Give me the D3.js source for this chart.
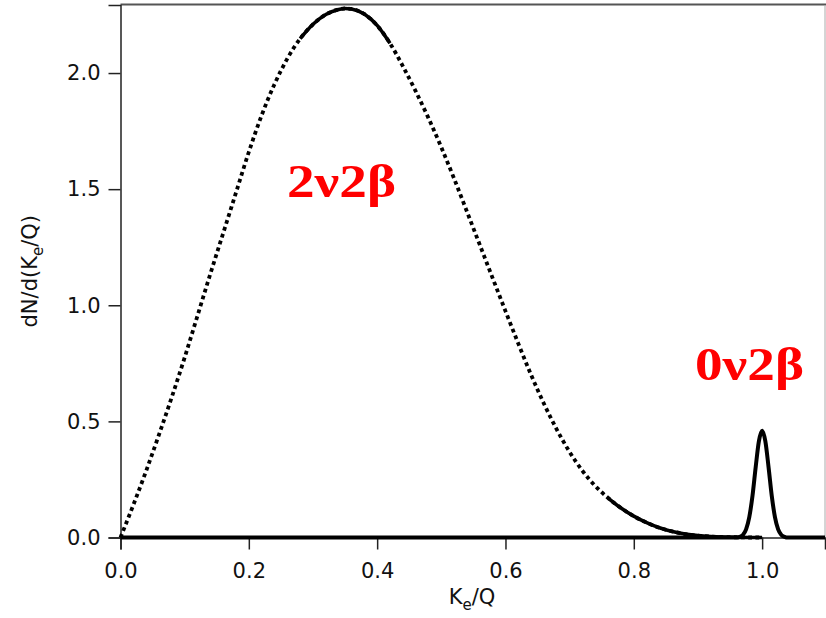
<!DOCTYPE html>
<html>
<head>
<meta charset="utf-8">
<script src="https://cdn.jsdelivr.net/npm/d3@7"></script>
<style>
  body { margin: 0; background: #fff; }
  svg { display: block; font-family: "DejaVu Sans", sans-serif; }
</style>
</head>
<body>
<div class="chart"></div>
<script>
const w = 826;
const h = 618;

// tick values
const xTicks = [0, 0.2, 0.4, 0.6, 0.8, 1.0];
const yTicks = [0, 0.5, 1.0, 1.5, 2.0];

// 2nu2beta spectrum
const twoNuX = [0, 0.02, 0.04, 0.06, 0.08, 0.10, 0.12, 0.14, 0.16, 0.18, 0.20, 0.22, 0.24, 0.26, 0.28, 0.30, 0.32, 0.34, 0.35, 0.36,
  0.38, 0.40, 0.42, 0.44, 0.46, 0.48, 0.50, 0.52, 0.54, 0.56, 0.58, 0.60, 0.62, 0.64, 0.66, 0.68, 0.70, 0.72, 0.74, 0.76,
  0.78, 0.80, 0.82, 0.84, 0.86, 0.88, 0.90, 0.92, 0.94, 0.96, 0.98, 1.00];
const twoNuY = [0, 0.140, 0.287, 0.443, 0.605, 0.775, 0.955, 1.135, 1.310, 1.485, 1.660, 1.818, 1.952, 2.062, 2.148, 2.210, 2.252, 2.274, 2.278, 2.276,
  2.254, 2.205, 2.128, 2.030, 1.922, 1.806, 1.680, 1.545, 1.403, 1.260, 1.117, 0.975, 0.835, 0.700, 0.576, 0.465, 0.368, 0.287, 0.222, 0.170,
  0.127, 0.092, 0.064, 0.042, 0.026, 0.015, 0.008, 0.004, 0.002, 0.001, 0, 0];

// 0nu2beta peak
const zeroNuX = [0, 0.96, 0.965, 0.97, 0.975, 0.98, 0.985, 0.99, 0.995, 1.0, 1.005, 1.01, 1.015, 1.02, 1.025, 1.03, 1.035, 1.04, 1.098];
const zeroNuY = [0, 0, 0.003, 0.011, 0.035, 0.088, 0.18, 0.304, 0.415, 0.46, 0.415, 0.304, 0.18, 0.088, 0.035, 0.011, 0.003, 0, 0];

const twoNu = twoNuX.map((x, i) => ({x: x, y: twoNuY[i]}));
const zeroNu = zeroNuX.map((x, i) => ({x: x, y: zeroNuY[i]}));

const pLeft = 120.5, pRight = 825, pTop = 5, pBottom = 537.5;

const xScale = d3.scaleLinear().domain([0, 1.098]).range([pLeft, pRight]);
const yScale = d3.scaleLinear().domain([0, 2.293]).range([pBottom, pTop]);

const svg = d3.select('div.chart')
  .append('svg')
  .attr('width', w)
  .attr('height', h);

// frame: top and right
svg.append('line')
  .attr('x1', pLeft).attr('x2', pRight + 1)
  .attr('y1', pTop - 0.5).attr('y2', pTop - 0.5)
  .attr('stroke', '#555').attr('stroke-width', 2);
svg.append('line')
  .attr('x1', pRight).attr('x2', pRight)
  .attr('y1', pTop).attr('y2', pBottom)
  .attr('stroke', '#aaa').attr('stroke-width', 1);

const xAxis = d3.axisBottom(xScale).tickValues(xTicks).tickFormat(d3.format('.1f')).tickSizeOuter(0).tickSize(12).tickPadding(14);
const yAxis = d3.axisLeft(yScale).tickValues(yTicks).tickFormat(d3.format('.1f')).tickSizeOuter(0).tickSize(12).tickPadding(8);

const gx = svg.append('g')
  .attr('transform', 'translate(0,' + pBottom + ')')
  .call(xAxis);
const gy = svg.append('g')
  .attr('transform', 'translate(' + pLeft + ',0)')
  .call(yAxis);

[gx, gy].forEach(g => {
  g.selectAll('path.domain').attr('stroke', '#222').attr('stroke-width', 1.5);
  g.selectAll('.tick line').attr('stroke', '#222').attr('stroke-width', 1.5);
  g.selectAll('.tick text')
    .attr('fill', '#111')
    .style('font-size', '21px')
    .style('font-family', '"DejaVu Sans", sans-serif');
});

const line = d3.line()
  .x(d => xScale(d.x))
  .y(d => yScale(d.y))
  .curve(d3.curveMonotoneX);

// 2nu: dotted markers look
svg.append('path')
  .datum(twoNu)
  .attr('d', line)
  .attr('fill', 'none')
  .attr('stroke', '#000')
  .attr('stroke-width', 3.8)
  .attr('stroke-dasharray', '3.8,3.4');

// where the markers run together the curve looks solid
svg.append('path')
  .datum(twoNu.filter(d => d.x >= 0.28 && d.x <= 0.42))
  .attr('d', line)
  .attr('fill', 'none')
  .attr('stroke', '#000')
  .attr('stroke-width', 3.6);
svg.append('path')
  .datum(twoNu.filter(d => d.x >= 0.76))
  .attr('d', line)
  .attr('fill', 'none')
  .attr('stroke', '#000')
  .attr('stroke-width', 3.6);

// 0nu line
svg.append('path')
  .datum(zeroNu)
  .attr('d', line)
  .attr('fill', 'none')
  .attr('stroke', '#000')
  .attr('stroke-width', 4)
  .attr('stroke-linejoin', 'round');

// axis titles
const xt = svg.append('text')
  .attr('x', 472)
  .attr('y', 604)
  .attr('text-anchor', 'middle')
  .attr('fill', '#111')
  .style('font-size', '21px');
xt.append('tspan').text('K');
xt.append('tspan').attr('dy', 6).style('font-size', '15px').text('e');
xt.append('tspan').attr('dy', -6).text('/Q');

const yt = svg.append('text')
  .attr('transform', 'translate(37,' + ((pTop + pBottom) / 2) + ') rotate(-90)')
  .attr('text-anchor', 'middle')
  .attr('fill', '#111')
  .style('font-size', '21px');
yt.append('tspan').text('dN/d(K');
yt.append('tspan').attr('dy', 6).style('font-size', '15px').text('e');
yt.append('tspan').attr('dy', -6).text('/Q)');

// red annotations
svg.append('text')
  .text('2\u03BD2\u03B2')
  .attr('x', 287)
  .attr('y', 197)
  .attr('fill', '#ff0000')
  .attr('font-weight', 'bold')
  .attr('textLength', 109)
  .attr('lengthAdjust', 'spacingAndGlyphs')
  .style('font-family', '"Liberation Serif", serif')
  .style('font-size', '46px');

svg.append('text')
  .text('0\u03BD2\u03B2')
  .attr('x', 695)
  .attr('y', 380)
  .attr('fill', '#ff0000')
  .attr('font-weight', 'bold')
  .attr('textLength', 109)
  .attr('lengthAdjust', 'spacingAndGlyphs')
  .style('font-family', '"Liberation Serif", serif')
  .style('font-size', '46px');
</script>
</body>
</html>
